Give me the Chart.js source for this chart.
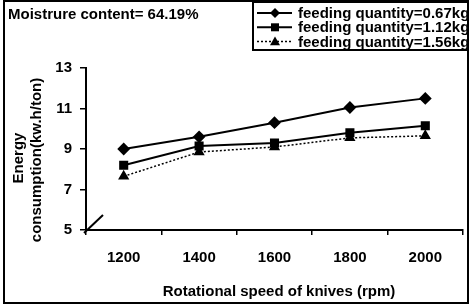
<!DOCTYPE html>
<html>
<head>
<meta charset="utf-8">
<script src="https://cdn.jsdelivr.net/npm/chart.js@4/dist/chart.umd.min.js"></script>
<style>
html,body{margin:0;padding:0;background:#fff;}
#c{display:block;}
</style>
</head>
<body>
<canvas id="c" width="470" height="306" style="width:470px;height:306px"></canvas>
<script>
const categories = ['1200', '1400', '1600', '1800', '2000'];
const seriesLabels = ['feeding quantity=0.67kg', 'feeding quantity=1.12kg', 'feeding quantity=1.56kg'];
const feed067 = [9.0, 9.6, 10.3, 11.05, 11.5];
const feed112 = [8.2, 9.15, 9.3, 9.8, 10.15];
const feed156 = [7.65, 8.85, 9.1, 9.55, 9.65];
const yTicks = [5, 7, 9, 11, 13];
const chartTitle = 'Moistrure content= 64.19%';
const xTitle = 'Rotational speed of knives (rpm)';
const yTitle = ['Energy', 'consumption(kw.h/ton)'];

const FONT = 'bold 15px "Liberation Sans", Arial, sans-serif';

function drawMarker(ctx, style, x, y, r) {
  ctx.save();
  ctx.fillStyle = '#000';
  ctx.beginPath();
  if (style === 'rectRot') {
    ctx.moveTo(x, y - r); ctx.lineTo(x + r, y); ctx.lineTo(x, y + r); ctx.lineTo(x - r, y); ctx.closePath();
  } else if (style === 'rect') {
    ctx.rect(x - r * 0.8, y - r * 0.8, r * 1.6, r * 1.6);
  } else {
    ctx.moveTo(x, y - r); ctx.lineTo(x + r, y + r * 0.75); ctx.lineTo(x - r, y + r * 0.75); ctx.closePath();
  }
  ctx.fill();
  ctx.restore();
}

const decor = {
  id: 'decor',
  afterDraw(chart) {
    const ctx = chart.ctx;
    const xs = chart.scales.x, ys = chart.scales.y;
    ctx.save();
    // outer frame
    ctx.strokeStyle = '#000';
    ctx.lineWidth = 2;
    ctx.strokeRect(4, 1, 464, 302);
    // title
    ctx.fillStyle = '#000';
    ctx.font = FONT;
    ctx.textAlign = 'left';
    ctx.textBaseline = 'middle';
    ctx.fillText(chartTitle, 8, 15);
    // legend box
    ctx.lineWidth = 2;
    ctx.strokeRect(253, 2, 215, 48);
    chart.data.datasets.forEach((ds, i) => {
      const yy = 13 + i * 14.3;
      ctx.save();
      ctx.strokeStyle = '#000';
      ctx.lineWidth = ds.borderWidth;
      ctx.setLineDash(ds.borderDash || []);
      ctx.beginPath(); ctx.moveTo(257, yy); ctx.lineTo(292, yy); ctx.stroke();
      ctx.restore();
      drawMarker(ctx, ds.pointStyle, 275, yy, ds.pointRadius);
      ctx.fillStyle = '#000';
      ctx.font = FONT;
      ctx.textAlign = 'left';
      ctx.textBaseline = 'middle';
      ctx.fillText(ds.label, 298, yy + 1);
    });
    // axis break mark
    ctx.strokeStyle = '#000';
    ctx.lineWidth = 2;
    ctx.beginPath();
    ctx.moveTo(xs.left - 2, ys.bottom + 3);
    ctx.lineTo(xs.left + 17, ys.bottom - 15);
    ctx.stroke();
    // x title
    ctx.font = FONT;
    ctx.textAlign = 'center';
    ctx.textBaseline = 'middle';
    ctx.fillText(xTitle, 279, 292);
    // y title
    ctx.save();
    ctx.translate(19, 158);
    ctx.rotate(-Math.PI / 2);
    ctx.fillText(yTitle[0], 0, 0);
    ctx.restore();
    ctx.save();
    ctx.translate(37, 160);
    ctx.rotate(-Math.PI / 2);
    ctx.fillText(yTitle[1], 0, 0);
    ctx.restore();
    ctx.restore();
  }
};

new Chart(document.getElementById('c'), {
  type: 'line',
  data: {
    labels: categories,
    datasets: [
      { label: seriesLabels[0], data: feed067, borderColor: '#000', backgroundColor: '#000', borderWidth: 2,
        pointStyle: 'rectRot', pointRadius: 5, pointBackgroundColor: '#000', pointBorderColor: '#000', tension: 0 },
      { label: seriesLabels[1], data: feed112, borderColor: '#000', backgroundColor: '#000', borderWidth: 2,
        pointStyle: 'rect', pointRadius: 5, pointBackgroundColor: '#000', pointBorderColor: '#000', tension: 0 },
      { label: seriesLabels[2], data: feed156, borderColor: '#000', backgroundColor: '#000', borderWidth: 1.5, borderDash: [2, 2],
        pointStyle: 'triangle', pointRadius: 5, pointBackgroundColor: '#000', pointBorderColor: '#000', tension: 0 }
    ]
  },
  options: {
    responsive: false,
    animation: false,
    devicePixelRatio: 1,
    layout: { padding: { top: 68, right: 2, left: 0, bottom: 0 } },
    plugins: { legend: { display: false }, tooltip: { enabled: false }, title: { display: false } },
    scales: {
      x: {
        type: 'category',
        offset: true,
        grid: { offset: true, drawOnChartArea: false, drawTicks: true, tickLength: 5, color: '#000', lineWidth: 1.5 },
        border: { display: true, color: '#000', width: 2 },
        ticks: { color: '#000', font: { family: '"Liberation Sans", Arial, sans-serif', size: 15, weight: 'bold' }, padding: 14, maxRotation: 0 },
        afterFit(s) { s.height = 76; }
      },
      y: {
        min: 5, max: 13,
        afterBuildTicks(s) { s.ticks = yTicks.map(v => ({ value: v })); },
        grid: { drawOnChartArea: false, drawTicks: true, tickLength: 6, color: '#000', lineWidth: 1.5 },
        border: { display: true, color: '#000', width: 2 },
        ticks: { color: '#000', font: { family: '"Liberation Sans", Arial, sans-serif', size: 15, weight: 'bold' }, padding: 8 },
        afterFit(s) { s.width = 86; }
      }
    }
  },
  plugins: [decor]
});
</script>
</body>
</html>
